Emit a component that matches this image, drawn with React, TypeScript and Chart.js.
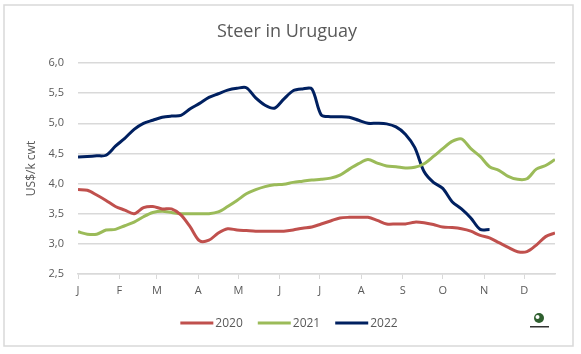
import React, { useEffect, useRef } from 'react';
import { Chart, registerables } from 'chart.js';

Chart.register(...registerables);

const FONT = '"Open Sans", "Liberation Sans", sans-serif';
const TEXT_COLOR = '#595959';
const GRID_COLOR = '#d9d9d9';

const chartTitle = 'Steer in Uruguay';
const yAxisTitle = 'US$/k cwt';

// Month starts (day of year) and their labels
const monthStartDays = [0, 31, 59, 90, 120, 151, 181, 212, 243, 273, 304, 334];
const monthLabels = ['J', 'F', 'M', 'A', 'M', 'J', 'J', 'A', 'S', 'O', 'N', 'D'];

// Weekly prices (US$/k cwt), one value per week
const series2020 = [
  3.90, 3.89, 3.81, 3.72, 3.62, 3.56, 3.50, 3.60, 3.62, 3.58,
  3.58, 3.48, 3.28, 3.05, 3.06, 3.18, 3.25, 3.23, 3.22, 3.21,
  3.21, 3.21, 3.21, 3.23, 3.26, 3.28, 3.33, 3.38, 3.43, 3.44,
  3.44, 3.44, 3.39, 3.33, 3.33, 3.33, 3.36, 3.35, 3.32, 3.28,
  3.27, 3.25, 3.21, 3.14, 3.10, 3.02, 2.94, 2.87, 2.87, 2.98,
  3.12, 3.18,
];
const series2021 = [
  3.20, 3.16, 3.16, 3.23, 3.24, 3.30, 3.36, 3.45, 3.52, 3.54,
  3.52, 3.50, 3.50, 3.50, 3.50, 3.53, 3.62, 3.72, 3.83, 3.90,
  3.95, 3.98, 3.99, 4.02, 4.04, 4.06, 4.07, 4.09, 4.14, 4.24,
  4.33, 4.40, 4.34, 4.29, 4.28, 4.26, 4.27, 4.33, 4.45, 4.58,
  4.70, 4.74, 4.58, 4.45, 4.28, 4.22, 4.12, 4.07, 4.08, 4.24,
  4.30, 4.40,
];
const series2022 = [
  4.44, 4.45, 4.46, 4.47, 4.62, 4.75, 4.90, 5.00, 5.05, 5.10,
  5.12, 5.13, 5.24, 5.33, 5.43, 5.49, 5.55, 5.58, 5.59, 5.42,
  5.30, 5.25, 5.40, 5.54, 5.57, 5.57, 5.14, 5.11, 5.11, 5.10,
  5.05, 5.00, 5.00, 4.99, 4.94, 4.82, 4.60, 4.20, 4.02, 3.92,
  3.70, 3.58, 3.43, 3.24, 3.24,
];

const seriesNames = ['2020', '2021', '2022'];
const seriesColors = ['#c0504d', '#9bbb59', '#002060'];

const yMin = 2.5;
const yMax = 6.0;
const yStep = 0.5;
const xMaxDay = 357;

const toPoints = (vals: number[]) => vals.map((v, i) => ({ x: i * 7, y: v }));

const decorPlugin = {
  id: 'decor',
  beforeDraw(chart: any) {
    const ctx = chart.ctx;
    ctx.save();
    ctx.fillStyle = '#ffffff';
    ctx.fillRect(0, 0, chart.width, chart.height);
    ctx.strokeStyle = GRID_COLOR;
    ctx.lineWidth = 1.5;
    ctx.strokeRect(4, 5, 569, 341);
    ctx.restore();
  },
  afterDraw(chart: any) {
    const ctx = chart.ctx;
    ctx.save();
    // title
    ctx.fillStyle = TEXT_COLOR;
    ctx.font = `18px ${FONT}`;
    ctx.textAlign = 'center';
    ctx.textBaseline = 'middle';
    ctx.fillText(chartTitle, 287, 32);

    // legend
    ctx.font = `12px ${FONT}`;
    ctx.textAlign = 'left';
    const lineW = 33;
    const gap = 2;
    const itemGap = 15;
    const widths = seriesNames.map((n) => ctx.measureText(n).width);
    const total = widths.reduce((a, w) => a + lineW + gap + w, 0) + itemGap * (seriesNames.length - 1);
    let x = 289 - total / 2;
    const y = 323;
    seriesNames.forEach((n, i) => {
      ctx.strokeStyle = seriesColors[i];
      ctx.lineWidth = 3;
      ctx.beginPath();
      ctx.moveTo(x, y);
      ctx.lineTo(x + lineW, y);
      ctx.stroke();
      ctx.fillStyle = TEXT_COLOR;
      ctx.fillText(n, x + lineW + gap, y + 0.5);
      x += lineW + gap + widths[i] + itemGap;
    });

    // small logo mark
    ctx.fillStyle = '#2f5f2f';
    ctx.beginPath();
    ctx.arc(539, 318, 5, 0, Math.PI * 2);
    ctx.fill();
    ctx.fillStyle = '#ffffff';
    ctx.beginPath();
    ctx.arc(537.5, 317, 2, 0, Math.PI * 2);
    ctx.fill();
    ctx.fillStyle = '#333333';
    ctx.fillRect(530, 326, 19, 1.5);
    ctx.restore();
  },
};

export default function App() {
  const canvasRef = useRef<HTMLCanvasElement | null>(null);

  useEffect(() => {
    if (!canvasRef.current) return;
    const chart = new Chart(canvasRef.current, {
      type: 'line',
      data: {
        datasets: [series2020, series2021, series2022].map((s, i) => ({
          label: seriesNames[i],
          data: toPoints(s),
          borderColor: seriesColors[i],
          backgroundColor: seriesColors[i],
          borderWidth: 3,
          pointRadius: 0,
          tension: 0.3,
          fill: false,
        })),
      },
      options: {
        animation: false,
        responsive: false,
        maintainAspectRatio: false,
        devicePixelRatio: 1,
        layout: { padding: { left: 8, right: 26, top: 63, bottom: 50 } },
        plugins: {
          legend: { display: false },
          title: { display: false },
          tooltip: { enabled: false },
        },
        scales: {
          x: {
            type: 'linear',
            min: 0,
            max: xMaxDay,
            afterBuildTicks: (scale: any) => {
              scale.ticks = monthStartDays.map((d) => ({ value: d }));
            },
            afterFit: (scale: any) => {
              scale.height = 30;
            },
            ticks: {
              autoSkip: false,
              maxRotation: 0,
              padding: 5,
              color: TEXT_COLOR,
              font: { family: FONT, size: 11 },
              callback: (value: any) => {
                const idx = monthStartDays.indexOf(Number(value));
                return idx >= 0 ? monthLabels[idx] : '';
              },
            },
            grid: {
              display: true,
              drawOnChartArea: false,
              drawTicks: true,
              tickLength: 5,
              color: GRID_COLOR,
              lineWidth: 1,
            },
            border: { display: true, color: GRID_COLOR, width: 1.5 },
          },
          y: {
            min: yMin,
            max: yMax,
            afterFit: (scale: any) => {
              scale.width = 70;
            },
            ticks: {
              stepSize: yStep,
              padding: 14,
              color: TEXT_COLOR,
              font: { family: FONT, size: 11 },
              callback: (value: any) => Number(value).toFixed(1).replace('.', ','),
            },
            grid: {
              color: GRID_COLOR,
              lineWidth: 1.5,
              drawTicks: false,
            },
            border: { display: false },
            title: {
              display: true,
              text: yAxisTitle,
              color: TEXT_COLOR,
              font: { family: FONT, size: 12 },
              padding: { top: 16.8, bottom: 0 },
            },
          },
        },
      },
      plugins: [decorPlugin],
    } as any);
    return () => chart.destroy();
  }, []);

  return (
    <div style={{ position: 'fixed', left: 0, top: 0, width: 581, height: 354, background: '#ffffff' }}>
      <canvas ref={canvasRef} width={581} height={354} style={{ width: 581, height: 354, display: 'block' }} />
    </div>
  );
}
